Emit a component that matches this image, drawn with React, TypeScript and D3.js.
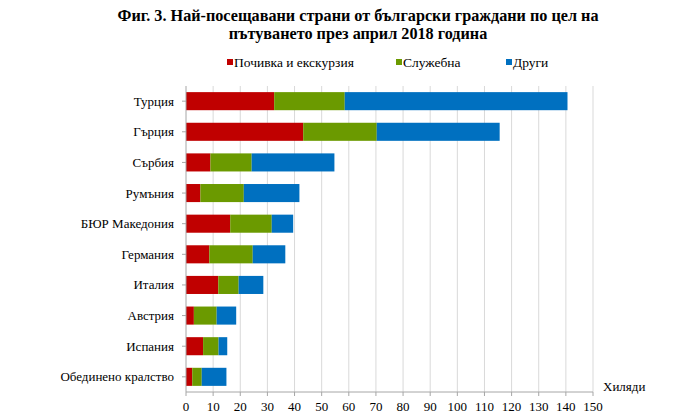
import * as d3 from 'd3';

const countries = [
  'Турция',
  'Гърция',
  'Сърбия',
  'Румъния',
  'БЮР Македония',
  'Германия',
  'Италия',
  'Австрия',
  'Испания',
  'Обединено кралство',
];

const seriesNames = ['Почивка и екскурзия', 'Служебна', 'Други'];
const seriesColors = ['#c00000', '#6b9a00', '#0070c0'];

const leisure = [32.5, 43.2, 9.0, 5.3, 16.3, 8.6, 11.9, 2.9, 6.3, 2.3];
const business = [26.0, 27.1, 15.2, 16.0, 15.3, 16.0, 7.5, 8.4, 5.7, 3.5];
const other = [82.1, 45.3, 30.5, 20.5, 7.9, 12.0, 9.1, 7.2, 3.2, 9.1];

const xTicks = d3.range(0, 151, 10);

const W = 693;
const H = 416;
const left = 186;
const right = 593;
const top = 86;
const bottom = 392;
const serif = { fontFamily: 'Liberation Serif, serif' };

export default function App() {
  const x = d3.scaleLinear().domain([0, 150]).range([left, right]);
  const y = d3
    .scaleBand<string>()
    .domain(countries)
    .range([top, bottom])
    .paddingInner(0.41)
    .paddingOuter(0.2);

  const rows = countries.map((c, i) => ({
    country: c,
    leisure: leisure[i],
    business: business[i],
    other: other[i],
  }));
  const stack = d3.stack<any>().keys(['leisure', 'business', 'other']);
  const layers = stack(rows);

  const legendX = [227, 396, 506];

  return (
    <svg width={W} height={H} style={{ position: 'absolute', left: 0, top: 0, background: '#fff' }}>
      {/* title */}
      <text x={358} y={20.5} textAnchor="middle" style={serif} fontWeight="bold" fontSize={16.2}>
        Фиг. 3. Най-посещавани страни от български граждани по цел на
      </text>
      <text x={358} y={38.5} textAnchor="middle" style={serif} fontWeight="bold" fontSize={16.2}>
        пътуването през април 2018 година
      </text>

      {/* legend */}
      {seriesNames.map((name, i) => (
        <g key={name}>
          <rect x={legendX[i]} y={59} width={6} height={6} fill={seriesColors[i]} />
          <text x={legendX[i] + 7} y={67} style={serif} fontSize={13.5}>
            {name}
          </text>
        </g>
      ))}

      {/* grid */}
      {xTicks.map((t) =>
        t === 0 ? null : (
          <line key={t} x1={x(t)} x2={x(t)} y1={top} y2={bottom} stroke="#d9d9d9" strokeWidth={1} />
        ),
      )}

      {/* bars */}
      {layers.map((layer, si) => (
        <g key={layer.key} fill={seriesColors[si]}>
          {layer.map((d, i) => (
            <rect
              key={countries[i]}
              x={x(d[0])}
              width={x(d[1]) - x(d[0])}
              y={y(countries[i])}
              height={y.bandwidth()}
            />
          ))}
        </g>
      ))}

      {/* y axis */}
      <line x1={left} x2={left} y1={top} y2={bottom} stroke="#a6a6a6" />
      {countries.map((c) => (
        <g key={c}>
          <line
            x1={left - 4}
            x2={left}
            y1={(y(c) ?? 0) + y.bandwidth() / 2}
            y2={(y(c) ?? 0) + y.bandwidth() / 2}
            stroke="#a6a6a6"
          />
          <text
            x={174}
            y={(y(c) ?? 0) + y.bandwidth() / 2 + 4.5}
            textAnchor="end"
            style={serif}
            fontSize={13}
          >
            {c}
          </text>
        </g>
      ))}

      {/* x axis */}
      <line x1={left} x2={right} y1={bottom} y2={bottom} stroke="#a6a6a6" />
      {xTicks.map((t) => (
        <g key={t}>
          <line x1={x(t)} x2={x(t)} y1={bottom} y2={bottom + 4} stroke="#a6a6a6" />
          <text x={x(t)} y={411} textAnchor="middle" style={serif} fontSize={13}>
            {t}
          </text>
        </g>
      ))}
      <text x={603} y={391} style={serif} fontSize={13}>
        Хиляди
      </text>
    </svg>
  );
}
